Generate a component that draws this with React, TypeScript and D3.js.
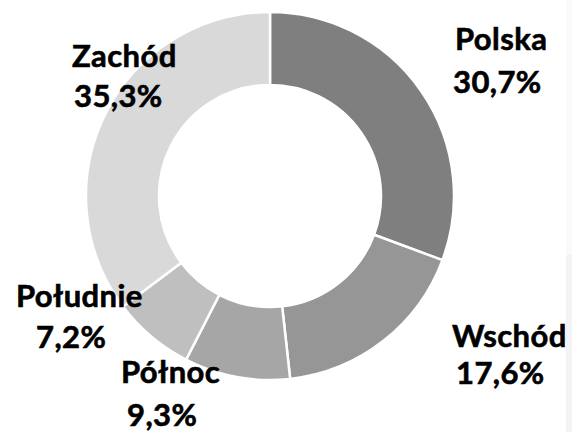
import React, { useEffect, useRef } from 'react';
import * as d3 from 'd3';

// regions and their shares (%)
const regions = ['Polska', 'Wschód', 'Północ', 'Południe', 'Zachód'];
const shares = [30.7, 17.6, 9.3, 7.2, 35.3];
const shareLabels = ['30,7%', '17,6%', '9,3%', '7,2%', '35,3%'];

const colors = ['#7f7f7f', '#969696', '#a6a6a6', '#bfbfbf', '#d9d9d9'];

// label anchor points (name line, value line) - layout only
const labelLayout = [
  { nx: 455, ny: 50, vx: 453, vy: 93 },
  { nx: 452, ny: 347, vx: 456, vy: 384 },
  { nx: 121, ny: 383, vx: 127, vy: 426 },
  { nx: 16, ny: 307, vx: 36, vy: 348 },
  { nx: 72, ny: 67, vx: 74, vy: 107 },
];

function App() {
  const svgRef = useRef(null);

  const width = 572,
    height = 432;
  const cx = 270,
    cy = 196;
  const outerR = 184,
    innerR = 111;

  useEffect(() => {
    const svg = d3.select(svgRef.current);
    svg.selectAll('*').remove();

    // faint strip at the right edge
    svg.append('rect').attr('x', 566).attr('y', 0).attr('width', 6).attr('height', 255).attr('fill', '#fafafa');
    svg.append('rect').attr('x', 566).attr('y', 255).attr('width', 6).attr('height', 177).attr('fill', '#f3f3f3');

    const pie = d3.pie<number>().sort(null).value(d => d);
    const arcs = pie(shares);
    const arcGen = d3.arc<d3.PieArcDatum<number>>().innerRadius(innerR).outerRadius(outerR);

    const g = svg.append('g').attr('transform', `translate(${cx}, ${cy})`);
    g.selectAll('path')
      .data(arcs)
      .enter()
      .append('path')
      .attr('d', arcGen)
      .attr('fill', (d, i) => colors[i])
      .attr('stroke', '#ffffff')
      .attr('stroke-width', 2.5);

    const labels = svg.append('g')
      .style('font-family', 'Lato, "DejaVu Sans", sans-serif')
      .style('font-weight', 'bold')
      .style('font-size', '31px')
      .style('letter-spacing', '0.4px')
      .attr('fill', '#000000')
      .attr('stroke', '#000000')
      .attr('stroke-width', 0.6);

    regions.forEach((name, i) => {
      const p = labelLayout[i];
      labels.append('text').attr('x', p.nx).attr('y', p.ny).text(name);
      labels.append('text').attr('x', p.vx).attr('y', p.vy).text(shareLabels[i]);
    });
  }, []);

  return (
    <div className='wrapper'>
      <svg
        ref={svgRef}
        width={width}
        height={height}
        style={{ position: 'absolute', left: 0, top: 0, background: '#ffffff' }}
      ></svg>
    </div>
  );
}

export default App;
